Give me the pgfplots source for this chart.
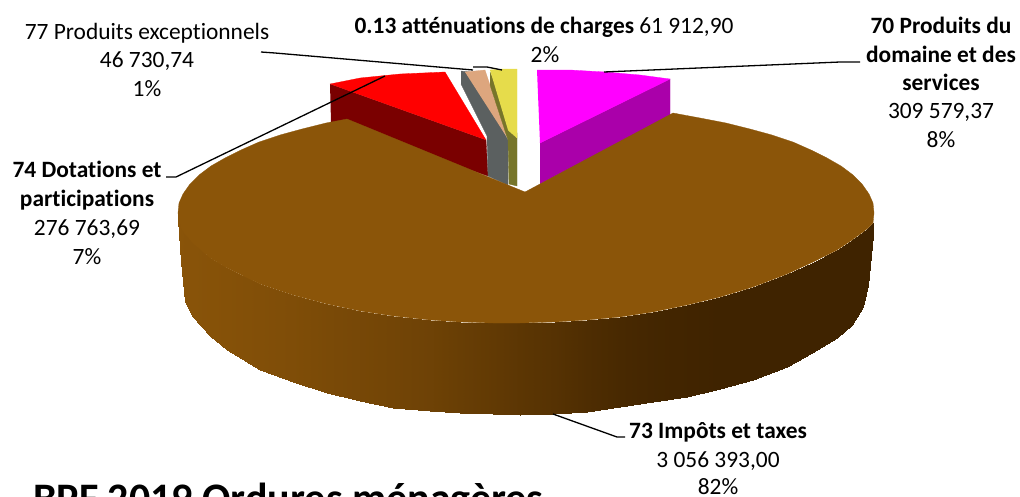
\documentclass[border=0pt]{standalone}
\usepackage{pgfplots}
\pgfplotsset{compat=1.18}
\usepackage{fontspec}
\setmainfont{Carlito}[Ligatures=NoCommon]
\definecolor{brun}{HTML}{8B5509}
\definecolor{brunsombre}{HTML}{3F2300}
\definecolor{rose}{HTML}{FF00FF}
\definecolor{rosesombre}{HTML}{AA00AA}
\definecolor{rouge}{HTML}{FF0000}
\definecolor{rougesombre}{HTML}{7A0000}
\definecolor{gris}{HTML}{5B6060}
\definecolor{peche}{HTML}{DDA67E}
\definecolor{olive}{HTML}{77752A}
\definecolor{jaune}{HTML}{E6DC4B}
\tikzset{
	lbl/.style={font=\fontsize{23.4}{28}\selectfont, inner sep=0pt, anchor=base},
	face/.style={fill=#1, draw=#1, line width=0.3pt},
}
\begin{document}
\begin{tikzpicture}
\clip (0,0) rectangle (1020pt,496pt);
\begin{axis}[
	scale only axis, width=1020pt, height=496pt,
	xmin=0, xmax=1020, ymin=0, ymax=496, y dir=reverse,
	hide axis, clip=false,
	colormap={cote}{color=(brunsombre) color=(brun)},
	point meta min=0, point meta max=100,
	]
	% slices behind the big one
	\addplot[face=rougesombre] coordinates {(330,84) (486,140) (488,176) (331,122)};
	\addplot[face=rouge] coordinates {(330,84) (360,78) (400,74) (445,72) (486,140)};
	\addplot[face=gris] coordinates {(461,71) (470,72) (508,140) (508,185) (488,176) (487,136) (461,84)};
	\addplot[face=peche] coordinates {(465,72) (475,71) (485,70) (508,139)};
	\addplot[face=olive] coordinates {(490,72) (517,133) (517,186) (509,184) (508,140) (490,85)};
	\addplot[face=jaune] coordinates {(490,70) (503,69) (517,69) (517,138) (508,130)};
	\addplot[face=rosesombre] coordinates {(540,143) (670,79) (670,116) (540,184)};
	\addplot[face=rose] coordinates {(537,70) (570,70) (605,72) (640,75) (670,79) (540,143)};
	% side of the big slice, dark to the right
	\addplot[surf, shader=interp, mesh/ordering=y varies, mesh/rows=2, mesh/cols=29, point meta=explicit]
		table[x=x, y=y, meta=c] {
		x y c
		178 213 100
		178 220 100
		181 228 98
		181 262 98
		185 234 96
		185 302 96
		193 243 96
		193 317 96
		210 258 94
		210 336 94
		227 268 92
		227 350 92
		260 284 88
		260 370 88
		293 295 84
		293 382 84
		327 304 78
		327 393 78
		360 311 73
		360 401 73
		393 316 68
		393 408 68
		430 320 62
		430 411 62
		460 322 54
		460 413 54
		493 323 46
		493 414 46
		520 323 38
		520 415 38
		555 322 30
		555 414 30
		587 320 20
		587 412 20
		620 317 12
		620 407 12
		653 312 6
		653 402 6
		687 305 3
		687 397 3
		720 297 0
		720 389 0
		753 287 0
		753 380 0
		787 274 0
		787 367 0
		812 262.5 0
		812 353 0
		837 250 0
		837 338 0
		852 240 0
		852 325 0
		863 232 0
		863 307 0
		868 228 0
		868 285 0
		873 223 0
		873 236 0
	};
	% top of the big slice
	\addplot[face=brun] coordinates {
		(525,192) (347,119) (326,123) (302,129) (280,135) (259,142) (241,150) (225,158)
		(211,166) (199,175) (190,184) (183,194) (179,203) (178,213)
		(181,228) (185,234) (193,243) (210,258) (227,268) (260,284) (293,295) (327,304)
		(360,311) (393,316) (430,320) (460,322) (493,323) (520,323) (555,322) (587,320)
		(620,317) (653,312) (687,305) (720,297) (753,287) (787,274) (812,262.5) (837,250)
		(852,240) (863,232) (868,228) (873,223) (874,213) (873,203) (869,194) (862,184)
		(853,175) (841,166) (827,158) (811,150) (793,142) (772,135) (750,129) (726,123)
		(700,118) (673,113)
	} -- cycle;
	% leader lines
	\addplot[black, line width=1.3pt] coordinates {(261,52) (275,53) (473,70)};
	\addplot[black, line width=1.3pt] coordinates {(473,67) (487,67) (502,70)};
	\addplot[black, line width=1.3pt] coordinates {(604,72) (840,62) (860,62)};
	\addplot[black, line width=1.3pt] coordinates {(385,76) (176,177) (166,177)};
	\addplot[black, line width=1.3pt] coordinates {(553,414) (617,437) (625,437)};
	% labels
	\node[lbl] at (axis cs:147,39) {77 Produits exceptionnels};
	\node[lbl] at (axis cs:147,67) {46 730,74};
	\node[lbl] at (axis cs:147,96) {1\%};
	\node[lbl] at (axis cs:544,33) {\textbf{0.13 atténuations de charges} 61 912,90};
	\node[lbl] at (axis cs:545,62) {2\%};
	\node[lbl] at (axis cs:941,33) {\textbf{70 Produits du}};
	\node[lbl] at (axis cs:941,62) {\textbf{domaine et des}};
	\node[lbl] at (axis cs:941,90) {\textbf{services}};
	\node[lbl] at (axis cs:941,118) {309 579,37};
	\node[lbl] at (axis cs:941,147) {8\%};
	\node[lbl] at (axis cs:87,177) {\textbf{74 Dotations et}};
	\node[lbl] at (axis cs:87,206) {\textbf{participations}};
	\node[lbl] at (axis cs:87,235) {276 763,69};
	\node[lbl] at (axis cs:87,264) {7\%};
	\node[lbl] at (axis cs:718,438) {\textbf{73 Impôts et taxes}};
	\node[lbl] at (axis cs:718,467) {3 056 393,00};
	\node[lbl] at (axis cs:718,494) {82\%};
	\node[anchor=base west, inner sep=0pt, font=\bfseries\fontsize{42}{46}\selectfont] at (axis cs:33,512) {BPF 2019 Ordures ménagères};
\end{axis}
\end{tikzpicture}
\end{document}
